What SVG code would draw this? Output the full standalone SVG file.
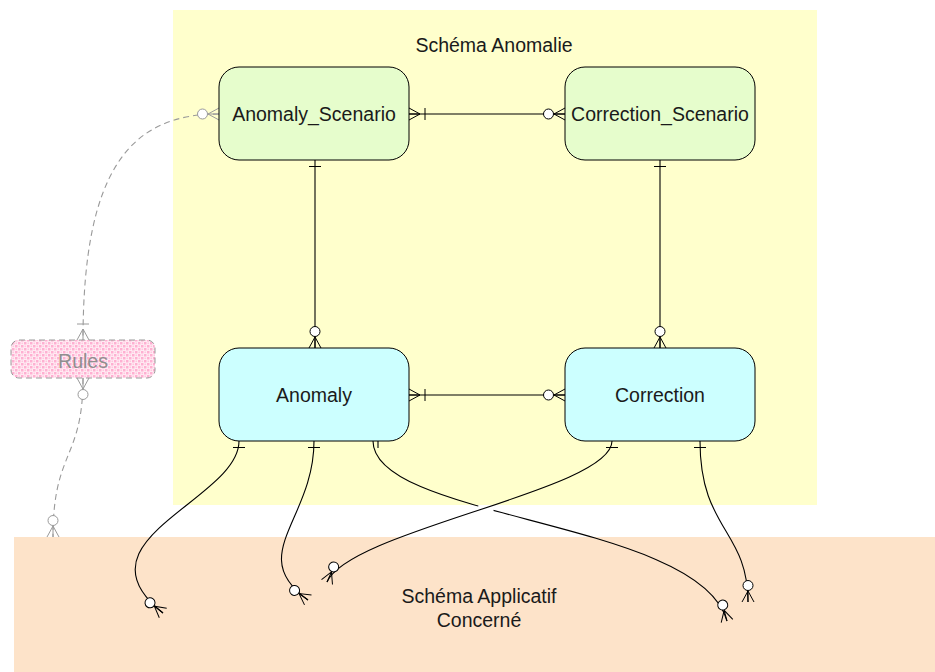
<svg xmlns="http://www.w3.org/2000/svg" width="935" height="672" viewBox="0 0 935 672">
  <style>
    text { font-family: "Liberation Sans", Arial, sans-serif; font-size: 19.5px; fill: #1a1a1a; text-anchor: middle; }
    .node { stroke: #000; stroke-width: 1; }
    .scen { fill: #e6fdcc; }
    .ent { fill: #ccffff; }
    .rel { fill: none; stroke: #000; stroke-width: 1.1; }
    .rel-soft { fill: none; stroke: #9a9a9a; stroke-width: 1.1; stroke-dasharray: 6 4; }
  </style>
  <defs>
    <pattern id="pinkDots" width="6" height="6" patternUnits="userSpaceOnUse">
      <rect width="6" height="6" fill="#ffeef5"/>
      <rect x="0" y="0" width="2.5" height="2.5" fill="#ffb0d2"/>
      <rect x="3" y="3" width="2.5" height="2.5" fill="#ffb0d2"/>
      <rect x="3.5" y="0.5" width="1.6" height="1.6" fill="#ffc6de"/>
      <rect x="0.5" y="3.5" width="1.6" height="1.6" fill="#ffc6de"/>
    </pattern>
    <!-- zero-or-many: circle + crow's foot -->
    <marker id="zeroMany" markerUnits="userSpaceOnUse" viewBox="-24 -8 25 16" refX="0" refY="0" markerWidth="25" markerHeight="16" orient="auto-start-reverse" overflow="visible">
      <path d="M0,-6 L-11,0 L0,6 M-11,0 L0,0" fill="none" stroke="#000" stroke-width="1"/>
      <circle cx="-16.5" cy="0" r="5" fill="#fff" stroke="#000" stroke-width="1"/>
    </marker>
    <!-- one-or-many: bar + crow's foot -->
    <marker id="oneMany" markerUnits="userSpaceOnUse" viewBox="-24 -8 25 16" refX="0" refY="0" markerWidth="25" markerHeight="16" orient="auto-start-reverse" overflow="visible">
      <path d="M0,-6 L-11,0 L0,6 M-11,0 L0,0 M-16,-6 L-16,6" fill="none" stroke="#000" stroke-width="1"/>
    </marker>
    <!-- exactly one: single bar -->
    <marker id="one" markerUnits="userSpaceOnUse" viewBox="-24 -8 25 16" refX="0" refY="0" markerWidth="25" markerHeight="16" orient="auto-start-reverse" overflow="visible">
      <path d="M-6.5,-6 L-6.5,6" fill="none" stroke="#000" stroke-width="1"/>
    </marker>
    <marker id="zeroManySoft" markerUnits="userSpaceOnUse" viewBox="-24 -8 25 16" refX="0" refY="0" markerWidth="25" markerHeight="16" orient="auto-start-reverse" overflow="visible">
      <path d="M0,-6 L-11,0 L0,6 M-11,0 L0,0" fill="none" stroke="#9a9a9a" stroke-width="1"/>
      <circle cx="-16.5" cy="0" r="5" fill="#fff" stroke="#9a9a9a" stroke-width="1"/>
    </marker>
    <marker id="oneManySoft" markerUnits="userSpaceOnUse" viewBox="-24 -8 25 16" refX="0" refY="0" markerWidth="25" markerHeight="16" orient="auto-start-reverse" overflow="visible">
      <path d="M0,-6 L-11,0 L0,6 M-11,0 L0,0 M-16,-6 L-16,6" fill="none" stroke="#9a9a9a" stroke-width="1"/>
    </marker>
    <!-- line hop where two relations cross -->
    <mask id="hop" maskUnits="userSpaceOnUse" x="0" y="0" width="935" height="672">
      <rect x="0" y="0" width="935" height="672" fill="#fff"/>
      <circle cx="486" cy="508" r="8" fill="#000"/>
    </mask>
  </defs>

  <!-- schema areas -->
  <g id="schema-anomalie">
    <rect x="173" y="10" width="644" height="495" fill="#ffffcc"/>
    <text x="494" y="52">Schéma Anomalie</text>
  </g>
  <g id="schema-applicatif">
    <rect x="14" y="537" width="921" height="135" fill="#fde3c9"/>
    <text x="479" y="603">Schéma Applicatif</text>
    <text x="479" y="627">Concerné</text>
  </g>

  <!-- relations -->
  <g id="connectors">
    <path class="rel" d="M409,114 L565,114" marker-start="url(#oneMany)" marker-end="url(#zeroMany)"/>
    <path class="rel" d="M409,395 L565,395" marker-start="url(#oneMany)" marker-end="url(#zeroMany)"/>
    <path class="rel" d="M315,160 L315,348" marker-start="url(#one)" marker-end="url(#zeroMany)"/>
    <path class="rel" d="M660,160 L660,348" marker-start="url(#one)" marker-end="url(#zeroMany)"/>

    <path class="rel" d="M239,441 C239,500 70,540 163,613" marker-start="url(#one)" marker-end="url(#zeroMany)"/>
    <path class="rel" d="M314,441 C314,520 245,555 308,600" marker-start="url(#one)" marker-end="url(#zeroMany)"/>
    <g mask="url(#hop)">
      <path class="rel" d="M373,441 C373,520 700,520 727,621" marker-end="url(#zeroMany)"/>
    </g>
    <path class="rel" d="M378,435 L378,448"/>
    <path class="rel" d="M612,441 C612,490 350,530 327,582" marker-start="url(#one)" marker-end="url(#zeroMany)"/>
    <path class="rel" d="M700,441 C700,530 748,530 748,602" marker-start="url(#one)" marker-end="url(#zeroMany)"/>

    <path class="rel-soft" d="M219,114 C130,114 83,170 83,340" marker-start="url(#zeroManySoft)" marker-end="url(#oneManySoft)"/>
    <path class="rel-soft" d="M83,378 C83,460 53,450 53,537" marker-start="url(#zeroManySoft)" marker-end="url(#zeroManySoft)"/>
  </g>

  <!-- entities -->
  <g id="anomaly-scenario">
    <rect class="node scen" x="219" y="67" width="190" height="93" rx="20"/>
    <text x="314" y="121">Anomaly_Scenario</text>
  </g>
  <g id="correction-scenario">
    <rect class="node scen" x="565" y="67" width="190" height="93" rx="20"/>
    <text x="660" y="121">Correction_Scenario</text>
  </g>
  <g id="anomaly">
    <rect class="node ent" x="219" y="348" width="190" height="93" rx="20"/>
    <text x="314" y="402">Anomaly</text>
  </g>
  <g id="correction">
    <rect class="node ent" x="565" y="348" width="190" height="93" rx="20"/>
    <text x="660" y="402">Correction</text>
  </g>
  <g id="rules">
    <rect x="11" y="340" width="144" height="38" rx="8" fill="url(#pinkDots)" stroke="#9a9a9a" stroke-dasharray="6 4"/>
    <text x="83" y="368" style="fill:#8f8f8f">Rules</text>
  </g>
</svg>
